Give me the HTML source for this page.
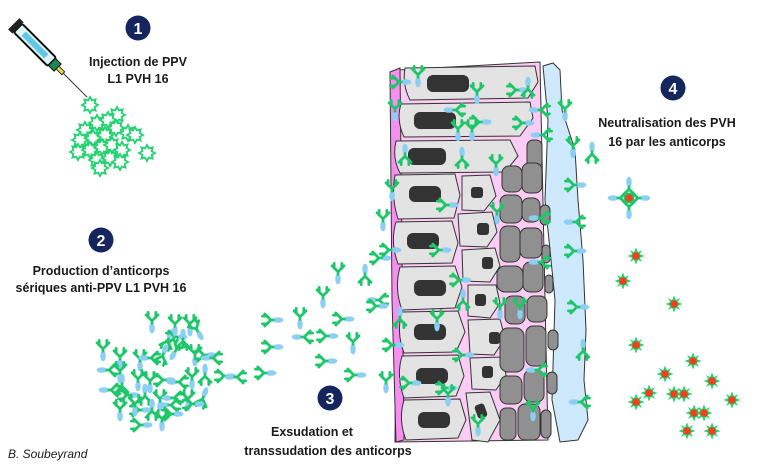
<!DOCTYPE html>
<html><head><meta charset="utf-8"><style>
html,body{margin:0;padding:0;background:#fff}
svg{display:block}
text{font-family:"Liberation Sans",sans-serif;font-weight:bold;font-size:12.5px;fill:#1a1a1a}
</style></head><body>
<svg width="760" height="466" viewBox="0 0 760 466" xmlns="http://www.w3.org/2000/svg">
<defs>
<g id="ab"><g transform="scale(1.2)"><ellipse cx="0" cy="5" rx="2.3" ry="4.5" fill="#8ccff5"/><path d="M0 1 L0 -1 L-5 -6 M0 -1 L5 -6 M-3.2 -4 L-3.2 -8 M3.2 -4 L3.2 -8" stroke="#1ec66a" stroke-width="2.3" fill="none" stroke-linecap="round"/></g></g>
<polygon id="v" points="0,-8 1.9,-4.6 5.6,-5.6 4.6,-1.9 8,0 4.6,1.9 5.6,5.6 1.9,4.6 0,8 -1.9,4.6 -5.6,5.6 -4.6,1.9 -8,0 -4.6,-1.9 -5.6,-5.6 -1.9,-4.6" fill="#fff" stroke="#22d36f" stroke-width="1.8"/>
<g id="rv"><polygon points="0,-8.5 1.9,-3.7 6,-6 3.7,-1.9 8.5,0 3.7,1.9 6,6 1.9,3.7 0,8.5 -1.9,3.7 -6,6 -3.7,1.9 -8.5,0 -3.7,-1.9 -6,-6 -1.9,-3.7" fill="#22d36f"/><circle r="3.8" fill="#f0401c"/></g>
</defs>

<!-- syringe -->
<g transform="translate(18,28) rotate(45)">
<rect x="0" y="-6" width="48" height="12" rx="2" fill="#dff3f8" stroke="#111" stroke-width="2"/>
<rect x="8" y="-3" width="32" height="6" fill="#5ec8e6"/>
<rect x="-6" y="-8" width="6" height="16" fill="#222"/>
<rect x="48" y="-5" width="8" height="10" fill="#1a8a55" stroke="#111"/>
<rect x="56" y="-2" width="8" height="4" fill="#e8d84a" stroke="#111" stroke-width="0.8"/>
<line x1="64" y1="0" x2="98" y2="0" stroke="#333" stroke-width="1"/>
</g>
<!-- virus cluster -->
<g>
<use href="#v" x="90" y="105"/><use href="#v" x="117" y="115"/><use href="#v" x="85" y="130"/><use href="#v" x="97" y="123"/><use href="#v" x="108" y="120"/>
<use href="#v" x="80" y="140"/><use href="#v" x="93" y="138"/><use href="#v" x="105" y="135"/><use href="#v" x="116" y="128"/><use href="#v" x="128" y="133"/><use href="#v" x="135" y="135"/>
<use href="#v" x="78" y="152"/><use href="#v" x="90" y="150"/><use href="#v" x="102" y="147"/><use href="#v" x="112" y="145"/><use href="#v" x="122" y="150"/>
<use href="#v" x="97" y="160"/><use href="#v" x="110" y="158"/><use href="#v" x="120" y="162"/><use href="#v" x="100" y="168"/><use href="#v" x="147" y="153"/>
</g>

<!-- number circles -->
<g fill="#15265e">
<circle cx="138" cy="28" r="12.5"/><circle cx="101" cy="240" r="12.5"/><circle cx="330" cy="398" r="12.5"/><circle cx="673" cy="88" r="12.5"/>
</g>
<text x="138" y="34" text-anchor="middle" style="fill:#fff;font-size:16px">1</text>
<text x="101" y="246" text-anchor="middle" style="fill:#fff;font-size:16px">2</text>
<text x="330" y="404" text-anchor="middle" style="fill:#fff;font-size:16px">3</text>
<text x="673" y="94" text-anchor="middle" style="fill:#fff;font-size:16px">4</text>

<text x="138" y="66" text-anchor="middle">Injection de PPV</text>
<text x="138" y="83" text-anchor="middle">L1 PVH 16</text>
<text x="101" y="275" text-anchor="middle">Production d’anticorps</text>
<text x="101" y="292" text-anchor="middle">sériques anti-PPV L1 PVH 16</text>
<text x="312" y="436" text-anchor="middle">Exsudation et</text>
<text x="328" y="455" text-anchor="middle">transsudation des anticorps</text>
<text x="667" y="127" text-anchor="middle">Neutralisation des PVH</text>
<text x="667" y="146" text-anchor="middle">16 par les anticorps</text>
<text x="8" y="458" style="font-weight:normal;font-style:italic;font-size:12px">B. Soubeyrand</text>

<!-- tissue -->
<path d="M398 70 L540 62 L548 440 L395 442 Z" fill="#fbcdf5" stroke="#333" stroke-width="1"/>
<path d="M390 72 L400 68 L404 440 L396 442 L392 300 Z" fill="#f68ff0" stroke="#333" stroke-width="1"/>
<path d="M543 66 L553 63 L560 70 L562 110 L575 150 L578 200 L583 260 L586 330 L584 380 L588 420 L578 440 L560 442 L552 400 L555 300 L545 200 L548 120 Z" fill="#cde9fb" stroke="#333" stroke-width="1"/>
<g fill="#e3e3e3" stroke="#333" stroke-width="1">
<path d="M405 68 L535 66 L538 82 L528 98 L410 100 Q402 85 405 68Z"/>
<path d="M401 104 L530 102 L533 118 L520 136 L404 137 Q396 120 401 104Z"/>
<path d="M396 141 L510 140 L518 156 L505 172 L400 173 Q392 158 396 141Z"/>
<path d="M395 175 L455 174 L460 195 L454 218 L398 219 Q391 197 395 175Z"/>
<path d="M396 222 L452 221 L458 243 L452 263 L398 264 Q390 242 396 222Z"/>
<path d="M400 267 L455 266 L462 287 L455 308 L402 310 Q394 288 400 267Z"/>
<path d="M402 312 L458 311 L465 332 L456 352 L404 353 Q396 332 402 312Z"/>
<path d="M402 356 L458 355 L464 376 L456 396 L404 398 Q396 376 402 356Z"/>
<path d="M404 400 L460 399 L466 420 L458 438 L406 440 Q398 420 404 400Z"/>
<path d="M462 176 L490 175 L496 196 L484 211 L462 210 Z"/>
<path d="M458 214 L492 212 L497 232 L487 247 L460 246 Z"/>
<path d="M462 250 L495 248 L500 266 L490 282 L463 281 Z"/>
<path d="M468 285 L496 285 L500 303 L490 318 L468 316 Z"/>
<path d="M468 320 L500 319 L505 338 L494 355 L470 354 Z"/>
<path d="M470 358 L503 357 L506 375 L496 390 L472 389 Z"/>
<path d="M466 393 L490 392 L500 420 L488 442 L472 440 Z"/>
</g>
<g fill="#333">
<rect x="427" y="75" width="42" height="17" rx="6"/><rect x="414" y="112" width="42" height="17" rx="6"/><rect x="408" y="148" width="38" height="17" rx="6"/>
<rect x="409" y="186" width="32" height="16" rx="6"/><rect x="407" y="233" width="32" height="16" rx="6"/><rect x="414" y="280" width="32" height="16" rx="6"/>
<rect x="414" y="324" width="32" height="16" rx="6"/><rect x="416" y="368" width="32" height="16" rx="6"/><rect x="418" y="412" width="32" height="16" rx="6"/>
<rect x="471" y="187" width="12" height="11" rx="3"/><rect x="477" y="223" width="12" height="12" rx="3"/><rect x="482" y="257" width="11" height="12" rx="3"/>
<rect x="475" y="294" width="11" height="12" rx="3"/><rect x="489" y="332" width="11" height="12" rx="3"/><rect x="482" y="366" width="11" height="12" rx="3"/><rect x="476" y="404" width="10" height="14" rx="3" transform="rotate(-20 481 411)"/>
</g>
<g fill="#909090" stroke="#333" stroke-width="1">
<rect x="527" y="140" width="15" height="28" rx="6"/>
<rect x="502" y="166" width="20" height="26" rx="7"/><rect x="522" y="163" width="20" height="30" rx="7"/>
<rect x="500" y="195" width="22" height="28" rx="7"/><rect x="522" y="198" width="18" height="24" rx="7"/><rect x="540" y="205" width="10" height="20" rx="5"/>
<rect x="500" y="226" width="20" height="36" rx="7"/><rect x="520" y="228" width="22" height="30" rx="7"/><rect x="542" y="245" width="8" height="18" rx="4"/>
<rect x="497" y="266" width="26" height="26" rx="8"/><rect x="523" y="262" width="20" height="30" rx="7"/><rect x="545" y="275" width="8" height="18" rx="4"/>
<rect x="505" y="296" width="20" height="28" rx="7"/><rect x="527" y="296" width="20" height="26" rx="7"/>
<rect x="500" y="328" width="24" height="44" rx="8"/><rect x="526" y="326" width="20" height="40" rx="7"/><rect x="548" y="330" width="10" height="20" rx="5"/>
<rect x="500" y="376" width="22" height="28" rx="7"/><rect x="524" y="370" width="20" height="32" rx="7"/><rect x="547" y="372" width="10" height="22" rx="5"/>
<rect x="500" y="408" width="16" height="32" rx="6"/><rect x="518" y="404" width="22" height="36" rx="7"/><rect x="541" y="410" width="10" height="28" rx="5"/>
</g>

<!-- antibodies: cluster 2 -->
<g>
<use href="#ab" transform="translate(103,350) rotate(0)"/><use href="#ab" transform="translate(120,358) rotate(0)"/><use href="#ab" transform="translate(152,322) rotate(0)"/>
<use href="#ab" transform="translate(168,340) rotate(200)"/><use href="#ab" transform="translate(176,337) rotate(-90)"/><use href="#ab" transform="translate(190,325) rotate(0)"/>
<use href="#ab" transform="translate(197,330) rotate(-30)"/><use href="#ab" transform="translate(108,370) rotate(90)"/><use href="#ab" transform="translate(120,372) rotate(0)"/>
<use href="#ab" transform="translate(140,360) rotate(0)"/><use href="#ab" transform="translate(150,358) rotate(90)"/><use href="#ab" transform="translate(163,355) rotate(200)"/>
<use href="#ab" transform="translate(176,350) rotate(30)"/><use href="#ab" transform="translate(195,355) rotate(0)"/><use href="#ab" transform="translate(205,355) rotate(-90)"/>
<use href="#ab" transform="translate(212,358) rotate(90)"/><use href="#ab" transform="translate(122,385) rotate(180)"/><use href="#ab" transform="translate(138,380) rotate(0)"/>
<use href="#ab" transform="translate(150,382) rotate(0)"/><use href="#ab" transform="translate(164,380) rotate(-90)"/><use href="#ab" transform="translate(178,382) rotate(90)"/>
<use href="#ab" transform="translate(192,378) rotate(0)"/><use href="#ab" transform="translate(205,375) rotate(180)"/><use href="#ab" transform="translate(225,376) rotate(-90)"/>
<use href="#ab" transform="translate(110,390) rotate(90)"/><use href="#ab" transform="translate(128,395) rotate(-90)"/><use href="#ab" transform="translate(145,395) rotate(180)"/>
<use href="#ab" transform="translate(160,400) rotate(0)"/><use href="#ab" transform="translate(173,398) rotate(90)"/><use href="#ab" transform="translate(188,400) rotate(0)"/>
<use href="#ab" transform="translate(203,398) rotate(200)"/><use href="#ab" transform="translate(120,410) rotate(0)"/><use href="#ab" transform="translate(140,410) rotate(-90)"/>
<use href="#ab" transform="translate(152,410) rotate(180)"/><use href="#ab" transform="translate(170,405) rotate(90)"/><use href="#ab" transform="translate(172,414) rotate(-90)"/>
<use href="#ab" transform="translate(193,404) rotate(-90)"/><use href="#ab" transform="translate(135,405) rotate(0)"/><use href="#ab" transform="translate(141,425) rotate(-90)"/>
<use href="#ab" transform="translate(162,420) rotate(0)"/><use href="#ab" transform="translate(175,325) rotate(0)"/><use href="#ab" transform="translate(183,340) rotate(180)"/>
</g>
<!-- scattered -->
<g>
<use href="#ab" transform="translate(338,273) rotate(0)"/><use href="#ab" transform="translate(365,275) rotate(180)"/><use href="#ab" transform="translate(323,297) rotate(0)"/>
<use href="#ab" transform="translate(300,318) rotate(0)"/><use href="#ab" transform="translate(272,320) rotate(-90)"/><use href="#ab" transform="translate(343,319) rotate(-90)"/>
<use href="#ab" transform="translate(303,337) rotate(90)"/><use href="#ab" transform="translate(327,336) rotate(-90)"/><use href="#ab" transform="translate(353,343) rotate(0)"/>
<use href="#ab" transform="translate(272,347) rotate(-90)"/><use href="#ab" transform="translate(326,361) rotate(-90)"/><use href="#ab" transform="translate(355,375) rotate(-90)"/>
<use href="#ab" transform="translate(236,377) rotate(90)"/><use href="#ab" transform="translate(265,373) rotate(-90)"/><use href="#ab" transform="translate(378,300) rotate(90)"/>
<use href="#ab" transform="translate(380,258) rotate(-90)"/>
</g>
<!-- tissue antibodies -->
<g>
<use href="#ab" transform="translate(418,76) rotate(0)"/><use href="#ab" transform="translate(400,82) rotate(-90)"/><use href="#ab" transform="translate(477,93) rotate(0)"/>
<use href="#ab" transform="translate(517,90) rotate(-90)"/><use href="#ab" transform="translate(528,88) rotate(180)"/><use href="#ab" transform="translate(395,110) rotate(0)"/>
<use href="#ab" transform="translate(455,110) rotate(90)"/><use href="#ab" transform="translate(480,122) rotate(-90)"/><use href="#ab" transform="translate(523,123) rotate(-90)"/>
<use href="#ab" transform="translate(540,110) rotate(90)"/><use href="#ab" transform="translate(458,130) rotate(0)"/><use href="#ab" transform="translate(472,130) rotate(0)"/>
<use href="#ab" transform="translate(542,135) rotate(90)"/><use href="#ab" transform="translate(405,155) rotate(180)"/><use href="#ab" transform="translate(462,158) rotate(180)"/>
<use href="#ab" transform="translate(496,165) rotate(0)"/><use href="#ab" transform="translate(392,190) rotate(0)"/><use href="#ab" transform="translate(447,205) rotate(-90)"/>
<use href="#ab" transform="translate(497,213) rotate(0)"/><use href="#ab" transform="translate(540,218) rotate(90)"/><use href="#ab" transform="translate(383,220) rotate(0)"/>
<use href="#ab" transform="translate(390,250) rotate(-90)"/><use href="#ab" transform="translate(440,250) rotate(-90)"/><use href="#ab" transform="translate(540,262) rotate(90)"/>
<use href="#ab" transform="translate(460,280) rotate(-90)"/><use href="#ab" transform="translate(463,300) rotate(180)"/><use href="#ab" transform="translate(377,306) rotate(-90)"/>
<use href="#ab" transform="translate(400,318) rotate(180)"/><use href="#ab" transform="translate(437,320) rotate(0)"/><use href="#ab" transform="translate(500,308) rotate(0)"/>
<use href="#ab" transform="translate(520,308) rotate(0)"/><use href="#ab" transform="translate(393,345) rotate(-90)"/><use href="#ab" transform="translate(463,355) rotate(-90)"/>
<use href="#ab" transform="translate(537,370) rotate(90)"/><use href="#ab" transform="translate(386,382) rotate(0)"/><use href="#ab" transform="translate(410,383) rotate(-90)"/>
<use href="#ab" transform="translate(446,388) rotate(-90)"/><use href="#ab" transform="translate(448,395) rotate(0)"/><use href="#ab" transform="translate(533,410) rotate(0)"/>
<use href="#ab" transform="translate(478,425) rotate(0)"/>
<use href="#ab" transform="translate(565,110) rotate(0)"/><use href="#ab" transform="translate(573,147) rotate(0)"/><use href="#ab" transform="translate(592,153) rotate(180)"/>
<use href="#ab" transform="translate(575,185) rotate(-90)"/><use href="#ab" transform="translate(575,222) rotate(90)"/><use href="#ab" transform="translate(575,251) rotate(-90)"/>
<use href="#ab" transform="translate(578,307) rotate(-90)"/><use href="#ab" transform="translate(583,350) rotate(180)"/><use href="#ab" transform="translate(580,402) rotate(90)"/>
</g>

<!-- neutralized complex -->
<g transform="translate(629,198)">
<use href="#ab" transform="translate(0,-10) rotate(180)"/><use href="#ab" transform="translate(0,10) rotate(0)"/><use href="#ab" transform="translate(-10,0) rotate(90)"/><use href="#ab" transform="translate(10,0) rotate(-90)"/>
<circle r="3.8" fill="#f0401c"/>
</g>
<g>
<use href="#rv" x="636" y="256"/><use href="#rv" x="623" y="281"/><use href="#rv" x="674" y="304"/><use href="#rv" x="636" y="345"/>
<use href="#rv" x="693" y="361"/><use href="#rv" x="665" y="374"/><use href="#rv" x="712" y="381"/><use href="#rv" x="649" y="393"/>
<use href="#rv" x="636" y="402"/><use href="#rv" x="674" y="394"/><use href="#rv" x="684" y="394"/><use href="#rv" x="732" y="400"/>
<use href="#rv" x="694" y="413"/><use href="#rv" x="704" y="413"/><use href="#rv" x="687" y="431"/><use href="#rv" x="712" y="431"/>
</g>
</svg>
</body></html>
